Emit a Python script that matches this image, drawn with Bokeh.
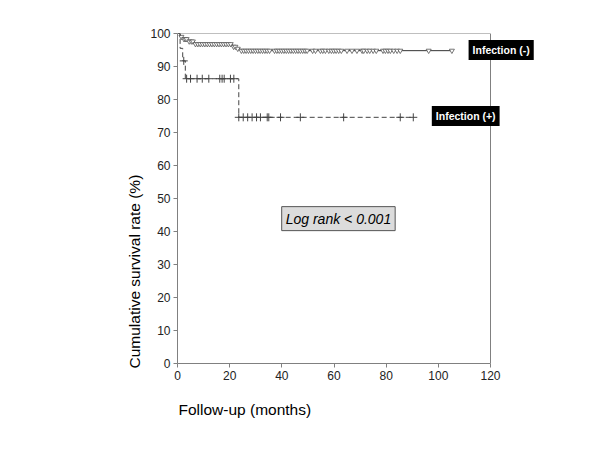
import numpy as np
from bokeh.plotting import figure
from bokeh.models import Label, Range1d, FixedTicker, Title
from bokeh.embed import file_html
from bokeh.resources import INLINE

# Infection (-) Kaplan-Meier steps
neg_t = [0, 1.0, 2.0, 4.0, 6.5, 21.0, 22.5, 24.0, 105.2]
neg_s = [100, 99.0, 98.3, 97.6, 96.8, 96.0, 95.4, 94.8, 94.8]
neg_censor = [1.5, 2.5, 3.0, 3.5, 4.5, 5.3, 5.9, 6.9, 7.8, 8.7, 9.6, 10.5, 11.4, 12.3,
              13.2, 14.1, 15.0, 15.9, 16.8, 17.7, 18.6, 19.5, 20.4, 21.5, 22.2, 23.1,
              24.5, 25.4, 26.3, 27.2, 28.1, 29.0, 29.9, 30.8, 31.7, 32.6, 33.5, 34.4,
              35.3, 37.2, 38.1, 39.0, 39.9, 40.8, 41.7, 42.6, 43.5, 44.4, 45.3, 46.2,
              47.1, 48.0, 48.9, 49.7, 51.8, 52.9, 54.8, 55.7, 56.7, 58.0, 59.0, 59.9,
              60.8, 61.8, 62.8, 65.0, 66.9, 68.8, 70.8, 71.4, 72.7, 73.7, 75.0, 76.2,
              78.8, 79.7, 80.7, 81.6, 82.9, 84.2, 85.4, 96.3, 105.2]

# Infection (+) Kaplan-Meier steps
pos_t = [0, 1.0, 2.0, 3.0, 23.5, 90.4]
pos_s = [100, 95.5, 91.7, 86.3, 74.6, 74.6]
pos_censor = [2.4, 3.5, 5.0, 7.5, 9.5, 12.0, 16.2, 17.1, 17.9, 20.3, 21.6,
              23.5, 25.2, 26.9, 28.6, 30.3, 31.8, 34.4, 35.0, 39.5, 47.1, 63.7, 85.4, 90.4]

x_ticks = [0, 20, 40, 60, 80, 100, 120]
y_ticks = [0, 10, 20, 30, 40, 50, 60, 70, 80, 90, 100]


def km_at(ts, ss, t):
    idx = np.searchsorted(np.array(ts), np.array(t), side="right") - 1
    return list(np.array(ss)[idx])


# frame: x 177..545 px, 0..120 months spans 177..490 px
x_end = x_ticks[-1] * (545 - 177) / (490 - 177)

p = figure(width=584, height=434, output_backend="svg", toolbar_location=None,
           x_range=Range1d(0, x_end), y_range=Range1d(0, 100),
           min_border_left=177, min_border_right=39, min_border_top=33,
           min_border_bottom=71)
p.xgrid.visible = False
p.ygrid.visible = False
p.outline_line_color = None

for ax in (p.xaxis, p.yaxis):
    ax.axis_line_color = "#808080"
    ax.major_tick_line_color = "#808080"
    ax.minor_tick_line_color = None
    ax.major_tick_in = 0
    ax.major_tick_out = 4
    ax.major_label_text_font = "Liberation Sans"
    ax.major_label_text_font_size = "12px"
    ax.major_label_text_color = "#222222"
    ax.major_label_standoff = 3
p.xaxis.ticker = FixedTicker(ticks=x_ticks)
p.yaxis.ticker = FixedTicker(ticks=y_ticks)
p.xaxis.bounds = (x_ticks[0], x_ticks[-1])
p.yaxis.bounds = (y_ticks[0], y_ticks[-1])

# box edges (top and right) of the chart area
p.segment(x0=[x_ticks[0], x_ticks[-1]], y0=[y_ticks[-1], y_ticks[0]],
          x1=[x_ticks[-1], x_ticks[-1]], y1=[y_ticks[-1], y_ticks[-1]],
          line_color="#808080", line_width=1)

# curves
p.step(neg_t, neg_s, mode="after", line_color="#333333", line_width=1)
p.scatter(neg_censor, km_at(neg_t, neg_s, neg_censor), marker="inverted_triangle",
          size=5, line_color="#555555", fill_color="white", line_width=0.8)

p.step(pos_t, pos_s, mode="after", line_color="#444444", line_width=1,
       line_dash="5 3")
p.scatter(pos_censor, km_at(pos_t, pos_s, pos_censor), marker="cross",
          size=8, line_color="#444444", line_width=1)

# legend boxes
for txt, xv, yv in (("Infection (-)", 111.6, 95.0), ("Infection (+)", 97.5, 75.0)):
    p.add_layout(Label(x=xv, y=yv, text=txt, text_color="white",
                       text_font="Liberation Sans", text_font_style="bold",
                       text_font_size="10.5px", text_align="left",
                       text_baseline="middle", background_fill_color="black",
                       padding=4))

p.add_layout(Label(x=61.7, y=43.9, text="Log rank < 0.001", text_color="black",
                   text_font="Liberation Sans", text_font_style="italic",
                   text_font_size="14px", text_align="center",
                   text_baseline="middle", background_fill_color="#dcdcdc",
                   border_line_color="#555555", border_line_width=1, padding=4))

# axis titles
p.add_layout(Title(text="Follow-up (months)", align="left", offset=1, standoff=32,
                   text_font="Liberation Sans", text_font_size="15.5px",
                   text_font_style="normal", text_color="black"), "below")
p.add_layout(Title(text="Cumulative survival rate (%)", align="left", offset=-5,
                   text_font="Liberation Sans", text_font_size="15.5px",
                   text_font_style="normal", text_color="black"), "left")

open("out.html", "w").write(file_html(p, INLINE))
